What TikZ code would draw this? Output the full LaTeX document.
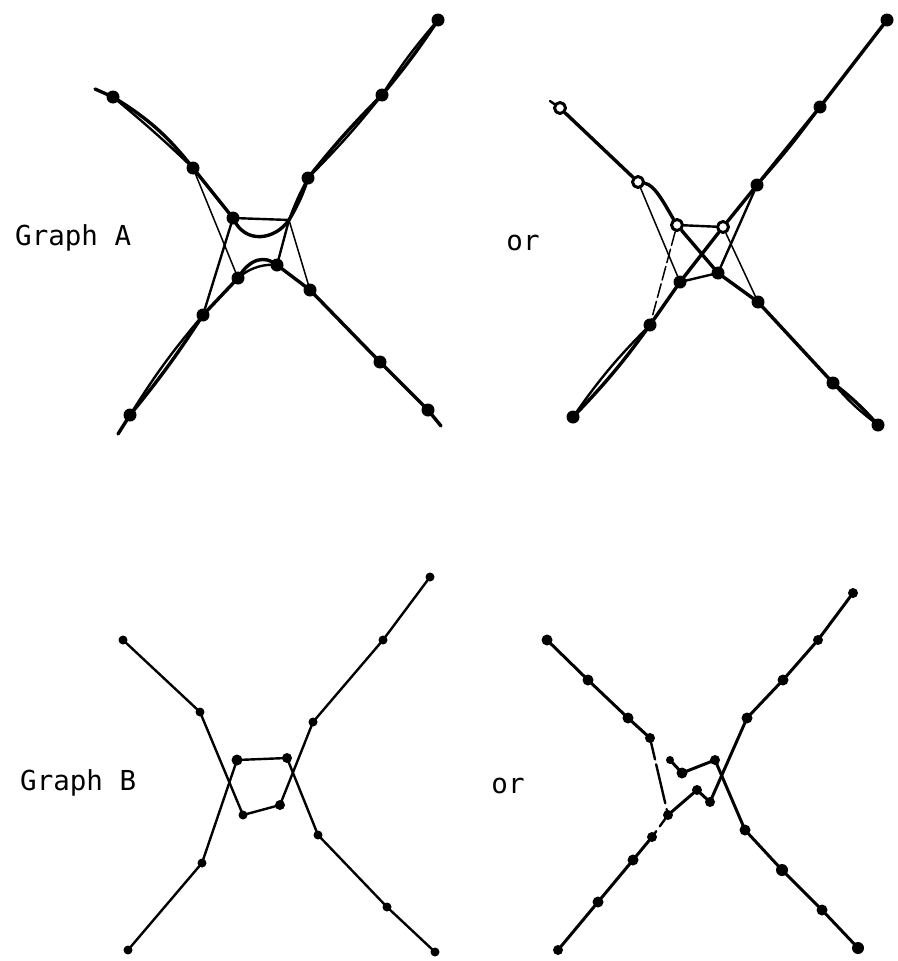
\documentclass[tikz,border=0pt]{standalone}
\usepackage{fontspec}
\newfontfamily\labfont{DejaVu Sans Mono}
\begin{document}
\begin{tikzpicture}[x=1pt,y=-1pt,line cap=round,line join=round,
  dotA/.style={circle,fill=black,inner sep=0pt,minimum size=13pt},
  ringA/.style={circle,draw=black,line width=3pt,fill=white,inner sep=0pt,minimum size=11pt},
  dotB/.style={circle,fill=black,inner sep=0pt,minimum size=9pt},
  dotC/.style={circle,fill=black,inner sep=0pt,minimum size=10pt},
  thick edge/.style={line width=3.4pt},
  mid edge/.style={line width=2.4pt},
  thin edge/.style={line width=1.5pt},
  edgeB/.style={line width=2.4pt},
  edgeC/.style={line width=3pt},
  lab/.style={font=\labfont\fontsize{27.5}{30}\selectfont,inner sep=0pt}]
\useasboundingbox (0,0) rectangle (897,961);

% labels
\node[lab,anchor=west] (labA) at (15,238) {Graph A};
\node[lab] (orA) at (523,243) {or};
\node[lab,anchor=west] (labB) at (20,783) {Graph B};
\node[lab] (orB) at (508,786) {or};

% ---------------- Graph A ----------------
\coordinate (a0) at (95,89);
\node[dotA] (a1) at (113,97) {};
\node[dotA] (a2) at (193,168) {};
\node[dotA] (aTL) at (233,218) {};
\coordinate (aTR) at (289,220);
\node[dotA] (aBL) at (238,278) {};
\node[dotA] (aBR) at (277,265) {};
\node[dotA] (b1) at (308,178) {};
\node[dotA] (b2) at (382,95) {};
\node[dotA] (b3) at (438,20) {};
\node[dotA] (c1) at (203,315) {};
\node[dotA] (c2) at (130,415) {};
\coordinate (c0) at (118,434);
\node[dotA] (d1) at (310,290) {};
\node[dotA] (d2) at (380,362) {};
\node[dotA] (d3) at (428,410) {};
\coordinate (d0) at (441,426);

\draw[thick edge] (a0) -- (a1.center);
\draw[thick edge] (a1.center) to[bend left=10] (a2.center);
\draw[mid edge] (a1.center) to[bend left=2] (a2.center);
\draw[thick edge] (a2.center) -- (aTL.center);
\draw[thin edge] (a2.center) -- (aBL.center);
\draw[mid edge] (aTL.center) -- (aTR);
\draw[thick edge] (aTL.center) .. controls (245,245) and (275,240) .. (aTR);
\draw[thick edge] (aTR) to[bend right=6] (b1.center);
\draw[mid edge] (aTR) to[bend left=4] (b1.center);
\draw[mid edge] (aTR) -- (aBR.center);
\draw[thin edge] (aTR) -- (d1.center);
\draw[mid edge] (aTL.center) -- (c1.center);
\draw[thick edge] (aBL.center) .. controls (250,258) and (265,255) .. (aBR.center);
\draw[mid edge] (aBL.center) .. controls (252,266) and (266,264) .. (aBR.center);
\draw[thick edge] (aBL.center) -- (c1.center);
\draw[thick edge] (aBR.center) -- (d1.center);
\draw[thick edge] (b1.center) to[bend left=3] (b2.center);
\draw[mid edge] (b1.center) to[bend right=3] (b2.center);
\draw[thick edge] (b2.center) to[bend right=3] (b3.center);
\draw[mid edge] (b2.center) to[bend left=4] (b3.center);
\draw[thick edge] (c1.center) to[bend left=3] (c2.center);
\draw[mid edge] (c1.center) to[bend right=4] (c2.center);
\draw[thick edge] (c2.center) -- (c0);
\draw[thick edge] (d1.center) -- (d2.center) -- (d3.center) -- (d0);

% ---------------- Graph A, alternative ----------------
\coordinate (e0t) at (550,101);
\node[ringA] (e0) at (560,108) {};
\node[ringA] (e1) at (638,182) {};
\node[ringA] (eTL) at (677,225) {};
\node[ringA] (eTR) at (723,227) {};
\node[dotA] (eBL) at (680,282) {};
\node[dotA] (eBR) at (718,273) {};
\node[dotA] (f1) at (757,185) {};
\node[dotA] (f2) at (820,107) {};
\node[dotA] (f3) at (887,20) {};
\node[dotA] (g1) at (650,325) {};
\node[dotA] (g2) at (573,417) {};
\node[dotA] (h1) at (758,302) {};
\node[dotA] (h2) at (833,383) {};
\node[dotA] (h3) at (878,425) {};

\draw[mid edge] (e0t) -- (e0);
\draw[thick edge] (e0) -- (e1);
\draw[thick edge] (e1) .. controls (655,185) and (665,205) .. (eTL);
\draw[thin edge] (e1) -- (eBL.center);
\draw[mid edge] (eTL) -- (eTR);
\draw[thick edge] (eTL) -- (eBR.center);
\draw[thick edge] (eBR.center) -- (h1.center);
\draw[thick edge] (eTR) -- (eBL.center);
\draw[thick edge] (eBL.center) -- (g1.center);
\draw[thick edge] (eTR) -- (f1.center);
\draw[mid edge] (f1.center) -- (eBR.center);
\draw[thin edge] (eTR) -- (h1.center);
\draw[thin edge,dash pattern=on 14pt off 4pt] (eTL) -- (g1.center);
\draw[mid edge] (eBL.center) -- (eBR.center);
\draw[thick edge] (f1.center) -- (f2.center);
\draw[mid edge] (f1.center) to[bend right=3] (f2.center);
\draw[thick edge] (f2.center) -- (f3.center);
\draw[thick edge] (g1.center) to[bend left=4] (g2.center);
\draw[mid edge] (g1.center) to[bend right=5] (g2.center);
\draw[thick edge] (h1.center) -- (h2.center);
\draw[thick edge] (h2.center) to[bend left=5] (h3.center);
\draw[mid edge] (h2.center) to[bend right=6] (h3.center);

% ---------------- Graph B ----------------
\node[dotB] (p0) at (123,640) {};
\node[dotB] (p1) at (200,712) {};
\node[dotB,minimum size=11pt] (q1) at (237,760) {};
\node[dotB,minimum size=10pt] (q2) at (287,758) {};
\node[dotB] (q3) at (243,815) {};
\node[dotB,minimum size=10pt] (q4) at (280,805) {};
\node[dotB] (r1) at (313,722) {};
\node[dotB] (r2) at (383,640) {};
\node[dotB] (r3) at (430,577) {};
\node[dotB] (s1) at (202,863) {};
\node[dotB] (s2) at (128,950) {};
\node[dotB] (t1) at (318,835) {};
\node[dotB] (t2) at (387,907) {};
\node[dotB] (t3) at (435,952) {};

\draw[edgeB] (p0.center) -- (p1.center) -- (q3.center) -- (q4.center) -- (r1.center) -- (r2.center) -- (r3.center);
\draw[edgeB] (s2.center) -- (s1.center) -- (q1.center) -- (q2.center) -- (t1.center) -- (t2.center) -- (t3.center);

% ---------------- Graph B, alternative ----------------
\node[dotC,minimum size=11pt] (u0) at (547,640) {};
\node[dotC,minimum size=11pt] (u1) at (588,680) {};
\node[dotC,minimum size=11pt] (u2) at (628,718) {};
\node[dotC] (u3) at (650,738) {};
\node[dotC,minimum size=8pt] (vh) at (670,760) {};
\node[dotC,minimum size=11pt] (v1) at (682,773) {};
\node[dotC] (v2) at (715,760) {};
\node[dotC] (w1) at (668,815) {};
\node[dotC] (w2) at (697,790) {};
\node[dotC] (w3) at (710,802) {};
\node[dotC,minimum size=11pt] (x1) at (747,718) {};
\node[dotC,minimum size=11pt] (x2) at (783,680) {};
\node[dotC] (x3) at (818,640) {};
\node[dotC] (x4) at (853,593) {};
\node[dotC] (y1) at (652,837) {};
\node[dotC,minimum size=11pt] (y2) at (633,860) {};
\node[dotC,minimum size=11pt] (y3) at (598,902) {};
\node[dotC] (y4) at (558,950) {};
\node[dotC,minimum size=11pt] (z1) at (745,830) {};
\node[dotC,minimum size=12pt] (z2) at (782,870) {};
\node[dotC,minimum size=11pt] (z3) at (822,910) {};
\node[dotC,minimum size=12pt] (z4) at (858,948) {};

\draw[edgeC] (u0.center) -- (u1.center) -- (u2.center) -- (u3.center);
\draw[edgeB,dash pattern=on 22pt off 5pt on 40pt off 6pt] (u3.center) -- (w1.center);
\draw[edgeC] (w1.center) -- (w2.center) -- (w3.center) -- (x1.center) -- (x2.center) -- (x3.center) -- (x4.center);
\draw[edgeC] (vh.center) -- (v1.center) -- (v2.center) -- (z1.center) -- (z2.center) -- (z3.center) -- (z4.center);
\draw[edgeB,dash pattern=on 14pt off 6pt] (w1.center) -- (y1.center);
\draw[edgeC] (y1.center) -- (y2.center) -- (y3.center) -- (y4.center);
\end{tikzpicture}
\end{document}
